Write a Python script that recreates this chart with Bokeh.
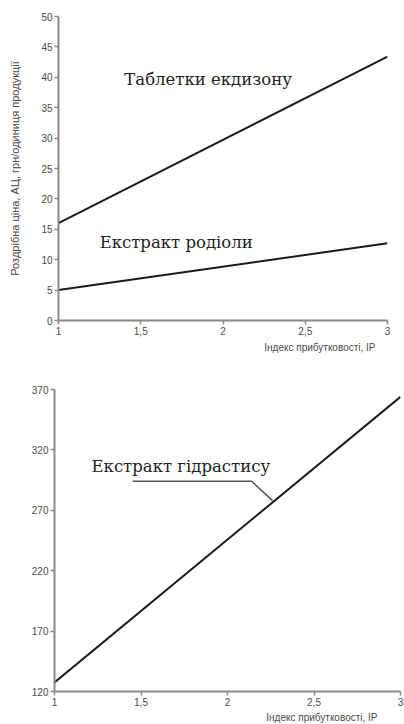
from bokeh.plotting import figure
from bokeh.layouts import column, row
from bokeh.models import Range1d, FixedTicker, Title
from bokeh.core.properties import value
from bokeh.embed import file_html
from bokeh.resources import INLINE

# Data
ip = [1, 3]
tablets_ecdysone = [16.0, 43.4]
rhodiola_extract = [5.0, 12.7]
hydrastis_extract = [127.5, 364.0]

x_ticks = [1, 1.5, 2, 2.5, 3]
x_tick_labels = ["1", "1,5", "2", "2,5", "3"]
top_y_ticks = [0, 5, 10, 15, 20, 25, 30, 35, 40, 45, 50]
bottom_y_ticks = [120, 170, 220, 270, 320, 370]

x_title = "Індекс прибутковості, IP"
y_title_top = "Роздрібна ціна, АЦ, грн/одиниця продукції"

AXIS_COLOR = "#8a8a8a"
TEXT_COLOR = "#4a4a4a"
SERIF = value("DejaVu Serif")


def style(p):
    p.outline_line_color = None
    p.xgrid.visible = False
    p.ygrid.visible = False
    for ax in (p.xaxis[0], p.yaxis[0]):
        ax.axis_line_color = AXIS_COLOR
        ax.axis_line_width = 2
        ax.major_tick_line_color = AXIS_COLOR
        ax.major_tick_line_width = 1.5
        ax.major_tick_out = 4
        ax.major_tick_in = 0
        ax.minor_tick_line_color = None
        ax.major_label_text_color = TEXT_COLOR
        ax.major_label_text_font = "Liberation Sans"
        ax.major_label_text_font_size = "10px"
        ax.major_label_standoff = 2
        ax.axis_label_text_color = TEXT_COLOR
        ax.axis_label_text_font = "Liberation Sans"
        ax.axis_label_text_font_style = "normal"
        ax.axis_label_text_font_size = "10px"
    p.xaxis[0].ticker = FixedTicker(ticks=x_ticks)
    p.xaxis[0].major_label_overrides = {t: l for t, l in zip(x_ticks, x_tick_labels)}


def x_title_label(offset, standoff):
    return Title(text=x_title, align="right", offset=offset, standoff=standoff,
                 text_font="Liberation Sans", text_font_size="10px",
                 text_font_style="normal", text_color=TEXT_COLOR)


# Top chart
p1 = figure(width=404, height=370, output_backend="svg", toolbar_location=None,
            x_range=Range1d(1, 3), y_range=Range1d(0, 50),
            min_border_left=58, min_border_right=17, min_border_top=16, min_border_bottom=50)
style(p1)
p1.yaxis[0].ticker = FixedTicker(ticks=top_y_ticks)
p1.yaxis[0].axis_label = y_title_top
p1.yaxis[0].axis_label_text_font_size = "11px"
p1.yaxis[0].axis_label_standoff = 17
p1.add_layout(x_title_label(12, 4), "below")

p1.line(ip, tablets_ecdysone, line_color="#1a1a1a", line_width=2)
p1.line(ip, rhodiola_extract, line_color="#1a1a1a", line_width=2)
p1.text(x=[1.40], y=[39.6], text=["Таблетки екдизону"], text_font=SERIF,
        text_font_size="16.5px", text_color="#222222", text_baseline="middle")
p1.text(x=[1.25], y=[12.8], text=["Екстракт родіоли"], text_font=SERIF,
        text_font_size="16.5px", text_color="#222222", text_baseline="middle")

# Bottom chart
p2 = figure(width=404, height=354, output_backend="svg", toolbar_location=None,
            x_range=Range1d(1, 3), y_range=Range1d(120, 370),
            min_border_left=54, min_border_right=4, min_border_top=19, min_border_bottom=33)
style(p2)
p2.yaxis[0].ticker = FixedTicker(ticks=bottom_y_ticks)
p2.add_layout(x_title_label(23, 3), "below")

p2.line(ip, hydrastis_extract, line_color="#1a1a1a", line_width=2)
p2.text(x=[1.214], y=[306], text=["Екстракт гідрастису"], text_font=SERIF,
        text_font_size="16.5px", text_color="#222222", text_baseline="middle")
leader_x = [1.453, 2.14, 2.26]
leader_y = [294, 294, 278]
p2.line(leader_x, leader_y, line_color="#555555", line_width=1.5)

layout = column(row(p1), row(p2), spacing=0)
open("out.html", "w").write(file_html(layout, INLINE))
